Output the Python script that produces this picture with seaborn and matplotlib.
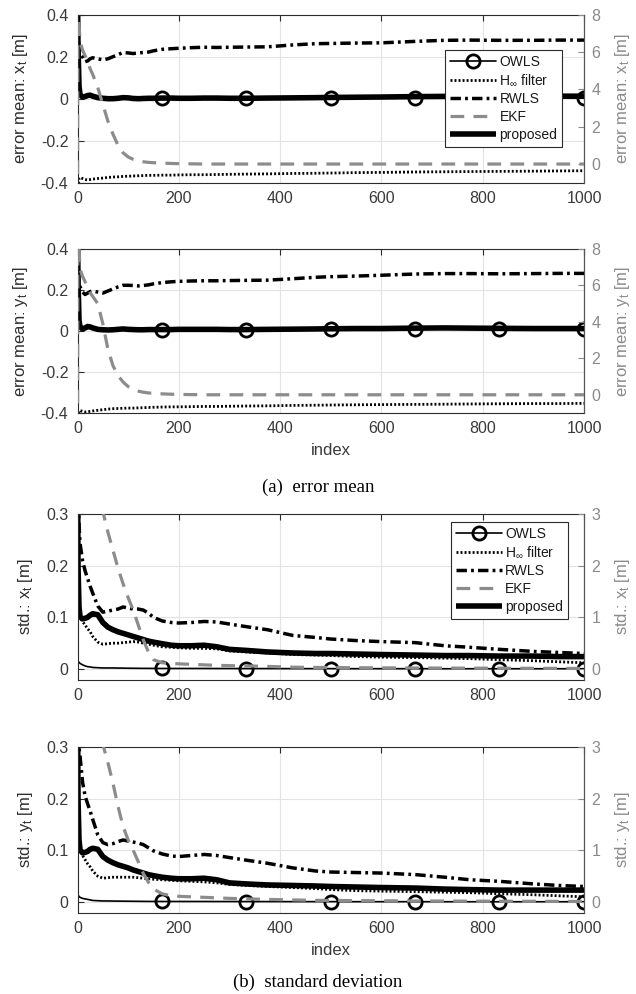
import matplotlib
matplotlib.use("Agg")
import matplotlib.pyplot as plt
import pandas as pd
import seaborn as sns

sns.set_style("white")
plt.rcParams["font.family"] = ["Liberation Sans", "DejaVu Sans"]
plt.rcParams["mathtext.fontset"] = "custom"
plt.rcParams["mathtext.rm"] = "Liberation Sans"
plt.rcParams["mathtext.it"] = "Liberation Sans"
plt.rcParams["mathtext.default"] = "regular"

# sample index (time step)
index = [0, 1, 3, 5, 10, 15, 20,
         25, 30, 40, 50, 60, 70, 80,
         90, 100, 110, 120, 130, 140, 150,
         167, 185, 200, 225, 250, 275, 300,
         333, 375, 425, 470, 500, 550, 600,
         667, 725, 775, 833, 900, 950, 1000]
owls_marker_index = [167, 333, 500, 667, 833, 1000]

# ---- error mean, x ----
owls_mx = [0.30, 0.10, 0.02, 0.010, 0.005, 0.006, 0.010,
           0.012, 0.008, 0.003, 0.001, 0.000, 0.000, 0.001,
           0.003, 0.002, 0.001, 0.000, 0.000, 0.001, 0.001,
           0.001, 0.001, 0.001, 0.001, 0.002, 0.002, 0.001,
           0.001, 0.001, 0.002, 0.003, 0.003, 0.004, 0.004,
           0.005, 0.006, 0.006, 0.006, 0.005, 0.005, 0.005]
hinf_mx = [-0.50, -0.42, -0.38, -0.375, -0.380, -0.385, -0.387,
           -0.385, -0.383, -0.380, -0.378, -0.375, -0.373, -0.372,
           -0.370, -0.369, -0.368, -0.367, -0.366, -0.365, -0.365,
           -0.364, -0.364, -0.363, -0.362, -0.362, -0.361, -0.360,
           -0.359, -0.358, -0.356, -0.355, -0.354, -0.352, -0.351,
           -0.349, -0.348, -0.347, -0.346, -0.345, -0.344, -0.343]
rwls_mx = [0.50, 0.30, 0.23, 0.215, 0.200, 0.176, 0.180,
           0.190, 0.195, 0.190, 0.185, 0.190, 0.200, 0.210,
           0.220, 0.218, 0.215, 0.218, 0.220, 0.222, 0.228,
           0.235, 0.238, 0.240, 0.243, 0.245, 0.244, 0.245,
           0.246, 0.247, 0.256, 0.262, 0.263, 0.265, 0.266,
           0.273, 0.278, 0.279, 0.278, 0.278, 0.279, 0.279]
ekf_mx = [-3.0, 12.0, 7.5, 6.6, 6.1, 5.8, 5.5,
          5.1, 4.8, 4.1, 3.2, 2.3, 1.6, 1.0,
          0.60, 0.38, 0.25, 0.17, 0.12, 0.09, 0.07,
          0.05, 0.03, 0.02, 0.01, 0.0, 0.0, 0.0,
          0.0, 0.0, 0.0, 0.0, 0.0, 0.0, 0.0,
          0.0, 0.0, 0.0, 0.0, 0.0, 0.0, 0.0]
prop_mx = [0.50, 0.25, 0.06, 0.020, 0.008, 0.010, 0.015,
           0.017, 0.012, 0.005, 0.002, 0.000, 0.000, 0.002,
           0.005, 0.004, 0.001, 0.000, 0.001, 0.002, 0.002,
           0.003, 0.003, 0.002, 0.002, 0.003, 0.003, 0.002,
           0.002, 0.003, 0.004, 0.005, 0.006, 0.007, 0.008,
           0.010, 0.011, 0.012, 0.012, 0.012, 0.012, 0.012]

# ---- error mean, y ----
owls_my = [0.30, 0.10, 0.02, 0.012, 0.008, 0.010, 0.014,
           0.013, 0.010, 0.006, 0.004, 0.004, 0.005, 0.006,
           0.007, 0.006, 0.005, 0.005, 0.005, 0.005, 0.005,
           0.005, 0.005, 0.005, 0.006, 0.006, 0.006, 0.005,
           0.005, 0.006, 0.007, 0.008, 0.009, 0.010, 0.010,
           0.012, 0.012, 0.011, 0.010, 0.009, 0.009, 0.009]
hinf_my = [-0.50, -0.43, -0.39, -0.388, -0.392, -0.395, -0.394,
           -0.392, -0.390, -0.387, -0.384, -0.381, -0.379, -0.378,
           -0.377, -0.376, -0.376, -0.375, -0.374, -0.373, -0.372,
           -0.371, -0.370, -0.370, -0.369, -0.368, -0.368, -0.367,
           -0.366, -0.365, -0.363, -0.362, -0.361, -0.360, -0.359,
           -0.358, -0.357, -0.356, -0.355, -0.354, -0.354, -0.353]
rwls_my = [0.50, 0.30, 0.23, 0.216, 0.190, 0.178, 0.185,
           0.192, 0.195, 0.190, 0.185, 0.195, 0.205, 0.215,
           0.223, 0.223, 0.222, 0.220, 0.222, 0.225, 0.230,
           0.236, 0.240, 0.242, 0.244, 0.245, 0.245, 0.246,
           0.247, 0.248, 0.255, 0.262, 0.265, 0.268, 0.272,
           0.278, 0.280, 0.280, 0.279, 0.280, 0.281, 0.281]
ekf_my = [-3.0, 12.0, 8.0, 6.9, 6.5, 6.2, 5.9,
          5.6, 5.4, 5.0, 3.9, 2.5, 1.6, 1.05,
          0.70, 0.45, 0.30, 0.20, 0.14, 0.10, 0.08,
          0.05, 0.03, 0.02, 0.01, 0.0, 0.0, 0.0,
          0.0, 0.0, 0.0, 0.0, 0.0, 0.0, 0.0,
          0.0, 0.0, 0.0, 0.0, 0.0, 0.0, 0.0]
prop_my = [0.50, 0.25, 0.05, 0.020, 0.010, 0.015, 0.022,
           0.020, 0.015, 0.008, 0.006, 0.005, 0.006, 0.008,
           0.010, 0.008, 0.007, 0.006, 0.006, 0.007, 0.007,
           0.007, 0.007, 0.008, 0.008, 0.008, 0.008, 0.007,
           0.007, 0.008, 0.009, 0.010, 0.011, 0.012, 0.012,
           0.014, 0.015, 0.014, 0.013, 0.012, 0.012, 0.012]

# ---- standard deviation, x ----
owls_sx = [0.017, 0.015, 0.013, 0.011, 0.008, 0.006, 0.0045,
           0.004, 0.003, 0.0025, 0.002, 0.002, 0.002, 0.0018,
           0.0017, 0.0015, 0.0014, 0.0013, 0.0012, 0.0012, 0.0011,
           0.001, 0.001, 0.001, 0.001, 0.001, 0.0009, 0.0009,
           0.0008, 0.0008, 0.0007, 0.0007, 0.0007, 0.0006, 0.0006,
           0.0006, 0.0005, 0.0005, 0.0005, 0.0005, 0.0005, 0.0005]
hinf_sx = [0.40, 0.20, 0.12, 0.100, 0.092, 0.085, 0.078,
           0.072, 0.063, 0.052, 0.048, 0.049, 0.050, 0.050,
           0.051, 0.052, 0.053, 0.052, 0.050, 0.048, 0.046,
           0.043, 0.042, 0.041, 0.040, 0.040, 0.039, 0.035,
           0.033, 0.031, 0.028, 0.027, 0.026, 0.024, 0.023,
           0.022, 0.021, 0.020, 0.018, 0.016, 0.014, 0.012]
rwls_sx = [0.45, 0.35, 0.28, 0.243, 0.210, 0.190, 0.175,
           0.160, 0.147, 0.122, 0.110, 0.112, 0.114, 0.116,
           0.120, 0.118, 0.116, 0.116, 0.114, 0.108, 0.100,
           0.093, 0.090, 0.089, 0.090, 0.092, 0.091, 0.087,
           0.082, 0.076, 0.065, 0.061, 0.058, 0.055, 0.053,
           0.051, 0.045, 0.042, 0.038, 0.034, 0.032, 0.030]
ekf_sx = [8.0, 7.5, 7.0, 6.6, 5.9, 5.3, 4.9,
          4.5, 4.1, 3.5, 3.05, 2.65, 2.30, 1.95,
          1.65, 1.38, 1.14, 0.85, 0.56, 0.33, 0.18,
          0.12, 0.11, 0.10, 0.09, 0.08, 0.07, 0.065,
          0.060, 0.050, 0.035, 0.030, 0.028, 0.025, 0.022,
          0.020, 0.018, 0.016, 0.015, 0.013, 0.012, 0.010]
prop_sx = [0.40, 0.20, 0.12, 0.101, 0.097, 0.098, 0.100,
           0.104, 0.107, 0.105, 0.090, 0.081, 0.076, 0.072,
           0.069, 0.066, 0.063, 0.060, 0.057, 0.054, 0.052,
           0.049, 0.046, 0.045, 0.045, 0.046, 0.043, 0.038,
           0.036, 0.033, 0.031, 0.030, 0.030, 0.029, 0.028,
           0.027, 0.026, 0.026, 0.025, 0.025, 0.024, 0.024]

# ---- standard deviation, y ----
owls_sy = [0.015, 0.013, 0.011, 0.009, 0.007, 0.006, 0.005,
           0.004, 0.003, 0.0025, 0.002, 0.002, 0.0018, 0.0017,
           0.0016, 0.0015, 0.0014, 0.0013, 0.0012, 0.0011, 0.0011,
           0.001, 0.001, 0.001, 0.001, 0.001, 0.0009, 0.0009,
           0.0008, 0.0008, 0.0007, 0.0007, 0.0007, 0.0006, 0.0006,
           0.0006, 0.0005, 0.0005, 0.0005, 0.0005, 0.0005, 0.0005]
hinf_sy = [0.40, 0.20, 0.12, 0.100, 0.090, 0.082, 0.074,
           0.068, 0.060, 0.050, 0.046, 0.047, 0.048, 0.048,
           0.048, 0.048, 0.048, 0.047, 0.046, 0.045, 0.044,
           0.043, 0.042, 0.041, 0.040, 0.039, 0.037, 0.034,
           0.032, 0.030, 0.028, 0.026, 0.024, 0.022, 0.021,
           0.020, 0.019, 0.018, 0.016, 0.014, 0.012, 0.010]
rwls_sy = [0.45, 0.35, 0.30, 0.282, 0.232, 0.205, 0.190,
           0.176, 0.160, 0.130, 0.115, 0.111, 0.113, 0.117,
           0.120, 0.118, 0.116, 0.114, 0.111, 0.105, 0.099,
           0.093, 0.089, 0.088, 0.090, 0.092, 0.090, 0.086,
           0.081, 0.075, 0.066, 0.060, 0.058, 0.057, 0.056,
           0.053, 0.048, 0.043, 0.040, 0.035, 0.032, 0.030]
ekf_sy = [8.0, 7.5, 7.0, 6.6, 5.9, 5.3, 4.9,
          4.5, 4.1, 3.5, 3.05, 2.70, 2.30, 1.85,
          1.46, 1.20, 1.00, 0.78, 0.55, 0.38, 0.25,
          0.16, 0.12, 0.11, 0.10, 0.09, 0.08, 0.07,
          0.060, 0.050, 0.040, 0.032, 0.030, 0.027, 0.024,
          0.020, 0.018, 0.016, 0.015, 0.013, 0.012, 0.010]
prop_sy = [0.40, 0.20, 0.12, 0.101, 0.095, 0.096, 0.098,
           0.102, 0.104, 0.102, 0.088, 0.081, 0.076, 0.072,
           0.069, 0.066, 0.062, 0.059, 0.056, 0.053, 0.051,
           0.048, 0.046, 0.045, 0.045, 0.046, 0.043, 0.037,
           0.035, 0.033, 0.032, 0.031, 0.030, 0.029, 0.028,
           0.027, 0.025, 0.024, 0.023, 0.023, 0.023, 0.023]

labels = ["OWLS", r"H$_{\infty}$ filter", "RWLS", "EKF", "proposed"]
x_ticks = [0, 200, 400, 600, 800, 1000]

DARK = "#2b2b2b"
GREY_AX = "#8a8a8a"
EKF_C = "#8c8c8c"

fig = plt.figure(figsize=(6.36, 9.94), dpi=100)


def draw_panel(rect, owls, hinf, rwls, ekf, prop, ylim_l, yticks_l, yticklabels_l,
               ylim_r, yticks_r, ylabel, xlabel=None, legend_anchor=None):
    df = pd.DataFrame({"index": index, "owls": owls, "hinf": hinf,
                       "rwls": rwls, "ekf": ekf, "prop": prop})
    ax = fig.add_axes(rect)
    ax2 = ax.twinx()
    common = dict(data=df, x="index", errorbar=None, legend=False, sort=False)

    sns.lineplot(y="prop", ax=ax, color="black", linewidth=4.0,
                 solid_capstyle="butt", label=labels[4], **common)
    sns.lineplot(y="rwls", ax=ax, color="black", linewidth=2.5,
                 linestyle=(0, (3.0, 1.2, 0.8, 1.2)), label=labels[2], **common)
    sns.lineplot(y="hinf", ax=ax, color="black", linewidth=2.0,
                 linestyle=(0, (0.7, 0.75)), label=labels[1], **common)
    mk = [index.index(v) for v in owls_marker_index]
    sns.lineplot(y="owls", ax=ax, color="black", linewidth=1.2, marker="o",
                 markersize=9.5, markerfacecolor="none", markeredgecolor="black",
                 markeredgewidth=2.0, markevery=mk, label=labels[0], **common)
    sns.lineplot(y="ekf", ax=ax2, color=EKF_C, linewidth=2.3,
                 linestyle=(0, (4.3, 2.9)), label=labels[3], **common)

    for a in (ax, ax2):
        if a.get_legend() is not None:
            a.get_legend().remove()

    ax.set_xlim(0, 1000)
    ax.set_xticks(x_ticks)
    ax.set_xticklabels([str(v) for v in x_ticks])
    ax.set_ylim(*ylim_l)
    ax.set_yticks(yticks_l)
    ax.set_yticklabels(yticklabels_l)
    ax2.set_ylim(*ylim_r)
    ax2.set_yticks(yticks_r)
    ax2.set_yticklabels([str(v) for v in yticks_r])

    ax.grid(True, color="#e3e3e3", linewidth=0.8)
    ax.set_axisbelow(True)
    ax2.grid(False)

    ax.tick_params(axis="both", direction="in", length=4, width=0.8,
                   colors=DARK, labelcolor="#3a3a3a", labelsize=11.5,
                   top=True, labeltop=False, right=False)
    ax.tick_params(axis="x", pad=6)
    ax.tick_params(axis="y", pad=6.5)
    ax2.tick_params(axis="y", direction="in", length=4, width=0.8,
                    colors=GREY_AX, labelcolor=GREY_AX, labelsize=11.5, pad=5.5)

    for s in ax.spines.values():
        s.set_color(DARK)
        s.set_linewidth(0.8)
    for name, s in ax2.spines.items():
        s.set_visible(name == "right")
    ax2.spines["right"].set_color("#555555")
    ax2.spines["right"].set_linewidth(0.8)

    ax.set_ylabel(ylabel, fontsize=12, color="#2e2e2e", labelpad=8)
    ax2.set_ylabel(ylabel, fontsize=12, color=GREY_AX, labelpad=9)
    ax.set_xlabel(xlabel if xlabel else "", fontsize=12, color="#3a3a3a",
                  labelpad=5)

    if legend_anchor is not None:
        lines = {ln.get_label(): ln for ln in ax.get_lines() + ax2.get_lines()}
        handles = [lines[l] for l in labels]
        leg = ax2.legend(handles, labels, loc="upper right",
                         bbox_to_anchor=legend_anchor, frameon=True,
                         fancybox=False, edgecolor=DARK, framealpha=1,
                         fontsize=10, handlelength=3.3, handletextpad=0.25,
                         labelspacing=0.28, borderpad=0.35, borderaxespad=0)
        leg.get_frame().set_linewidth(0.8)
        for t in leg.get_texts():
            t.set_color("#1a1a1a")
    return ax


W = 506.5 / 636
L = 77.5 / 636
mean_ticks = [-0.4, -0.2, 0, 0.2, 0.4]
mean_labels = ["-0.4", "-0.2", "0", "0.2", "0.4"]
std_ticks = [0, 0.1, 0.2, 0.3]
std_labels = ["0", "0.1", "0.2", "0.3"]

draw_panel([L, (994 - 182.7) / 994, W, 168 / 994], owls_mx, hinf_mx, rwls_mx,
           ekf_mx, prop_mx, (-0.4, 0.4), mean_ticks, mean_labels,
           (-1, 8), [0, 2, 4, 6, 8], r"error mean: x$_t$ [m]",
           legend_anchor=(0.957, 0.79))
draw_panel([L, (994 - 413) / 994, W, 164 / 994], owls_my, hinf_my, rwls_my,
           ekf_my, prop_my, (-0.4, 0.4), mean_ticks, mean_labels,
           (-1, 8), [0, 2, 4, 6, 8], r"error mean: y$_t$ [m]", xlabel="index")
draw_panel([L, (994 - 680) / 994, W, 166 / 994], owls_sx, hinf_sx, rwls_sx,
           ekf_sx, prop_sx, (-0.0213, 0.3), std_ticks, std_labels,
           (-0.213, 3), [0, 1, 2, 3], r"std.: x$_t$ [m]",
           legend_anchor=(0.968, 0.952))
draw_panel([L, (994 - 913) / 994, W, 166 / 994], owls_sy, hinf_sy, rwls_sy,
           ekf_sy, prop_sy, (-0.0213, 0.3), std_ticks, std_labels,
           (-0.213, 3), [0, 1, 2, 3], r"std.: y$_t$ [m]", xlabel="index")

cap = dict(ha="center", va="center", fontsize=13.5, color="black",
           family=["Liberation Serif", "DejaVu Serif"])
fig.text(0.5, 1 - 487 / 994, "(a)  error mean", **cap)
fig.text(0.5, 1 - 982 / 994, "(b)  standard deviation", **cap)

fig.savefig("out.png", dpi=100, facecolor="white")
